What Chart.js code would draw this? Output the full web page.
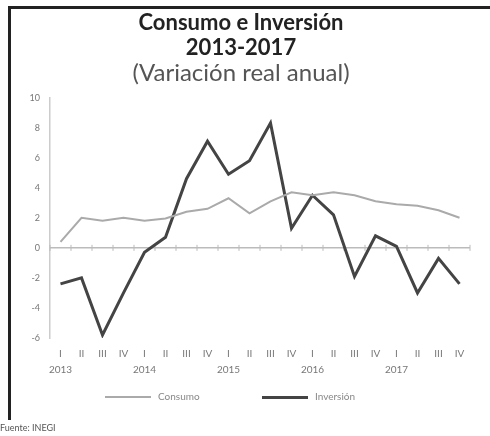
<!DOCTYPE html>
<html>
<head>
<meta charset="utf-8">
<script src="https://cdn.jsdelivr.net/npm/chart.js@4/dist/chart.umd.min.js"></script>
<style>
  body { margin: 0; background: #fff; }
  #wrap { position: relative; width: 490px; height: 436px; font-family: Lato, sans-serif; }
  #c { position: absolute; left: 0; top: 0; }
  .bTop { position: absolute; left: 8px; top: 6px; width: 482px; height: 3px; background: #222; }
  .bLeft { position: absolute; left: 8px; top: 6px; width: 3px; height: 414px; background: #222; }
  #src { position: absolute; left: 0; top: 422px; font-size: 9px; color: #555; }
  .lg { position: absolute; top: 390px; font-size: 10px; color: #888; line-height: 12px; }
  .lg span { display: inline-block; width: 46px; vertical-align: middle; margin-right: 7px; }
</style>
</head>
<body>
<div id="wrap">
  <canvas id="c" width="490" height="436"></canvas>
  <div class="bTop"></div>
  <div class="bLeft"></div>
  <div class="lg" style="left:105px"><span style="height:2px;background:#aaa"></span>Consumo</div>
  <div class="lg" style="left:262px"><span style="height:3px;background:#444"></span>Inversión</div>
  <div id="src">Fuente: INEGI</div>
</div>
<script>
const quarters = ["I", "II", "III", "IV"];
const years = ["2013", "2014", "2015", "2016", "2017"];
const consumo = [0.4, 2.0, 1.8, 2.0, 1.8, 1.95, 2.4, 2.6, 3.3, 2.3, 3.1, 3.7, 3.5, 3.7, 3.5, 3.1, 2.9, 2.8, 2.5, 2.0];
const inversion = [-2.4, -2.0, -5.8, -3.0, -0.3, 0.7, 4.6, 7.1, 4.9, 5.8, 8.3, 1.3, 3.5, 2.2, -1.9, 0.8, 0.1, -3.0, -0.7, -2.4];
const yTicks = [10, 8, 6, 4, 2, 0, -2, -4, -6];

const labels = [];
years.forEach((y) => quarters.forEach((q, i) => labels.push(i === 0 ? [q, y] : [q, ""])));

// zero line with small ticks at category boundaries
const zeroLine = {
  id: "zeroLine",
  beforeDatasetsDraw(chart) {
    const { ctx, scales } = chart;
    const y0 = scales.y.getPixelForValue(0);
    ctx.save();
    ctx.strokeStyle = "#bbb";
    ctx.lineWidth = 1.5;
    ctx.beginPath();
    ctx.moveTo(scales.x.left, y0);
    ctx.lineTo(scales.x.right, y0);
    ctx.stroke();
    ctx.lineWidth = 1;
    for (let i = 0; i <= labels.length; i++) {
      const x = scales.x.left + (i * (scales.x.right - scales.x.left)) / labels.length;
      ctx.beginPath();
      ctx.moveTo(x, y0 - 3);
      ctx.lineTo(x, y0 + 3);
      ctx.stroke();
    }
    ctx.restore();
  },
};

new Chart(document.getElementById("c").getContext("2d"), {
  type: "line",
  data: {
    labels: labels,
    datasets: [
      {
        label: "Consumo",
        data: consumo,
        borderColor: "#aaaaaa",
        borderWidth: 2,
        pointRadius: 0,
        tension: 0,
      },
      {
        label: "Inversión",
        data: inversion,
        borderColor: "#444444",
        borderWidth: 3,
        pointRadius: 0,
        tension: 0,
      },
    ],
  },
  options: {
    responsive: false,
    animation: false,
    layout: { padding: { left: 12, right: 20, top: 8, bottom: 50 } },
    scales: {
      x: {
        offset: true,
        grid: { display: false, drawTicks: false },
        border: { display: false },
        ticks: {
          autoSkip: false,
          maxRotation: 0,
          padding: 8,
          color: "#777",
          font: { family: "Lato", size: 10, lineHeight: 1.6 },
        },
      },
      y: {
        min: -6,
        max: 10,
        afterFit: (s) => (s.width = 38),
        afterBuildTicks: (s) => (s.ticks = yTicks.map((v) => ({ value: v }))),
        grid: { display: false, drawTicks: false },
        border: { display: true, color: "#ccc", width: 1.5 },
        ticks: {
          padding: 10,
          color: "#777",
          font: { family: "Lato", size: 9 },
        },
      },
    },
    plugins: {
      title: {
        display: true,
        text: ["Consumo e Inversión", "2013-2017"],
        color: "#222",
        font: { family: "Lato", size: 22, weight: "bold", lineHeight: 1.15 },
        padding: { top: 2, bottom: 0 },
      },
      subtitle: {
        display: true,
        text: "(Variación real anual)",
        color: "#555",
        font: { family: "Lato", size: 24, lineHeight: 1.0 },
        padding: { top: 1, bottom: 12 },
      },
      legend: { display: false },
      tooltip: { enabled: false },
    },
  },
  plugins: [zeroLine],
});
</script>
</body>
</html>
